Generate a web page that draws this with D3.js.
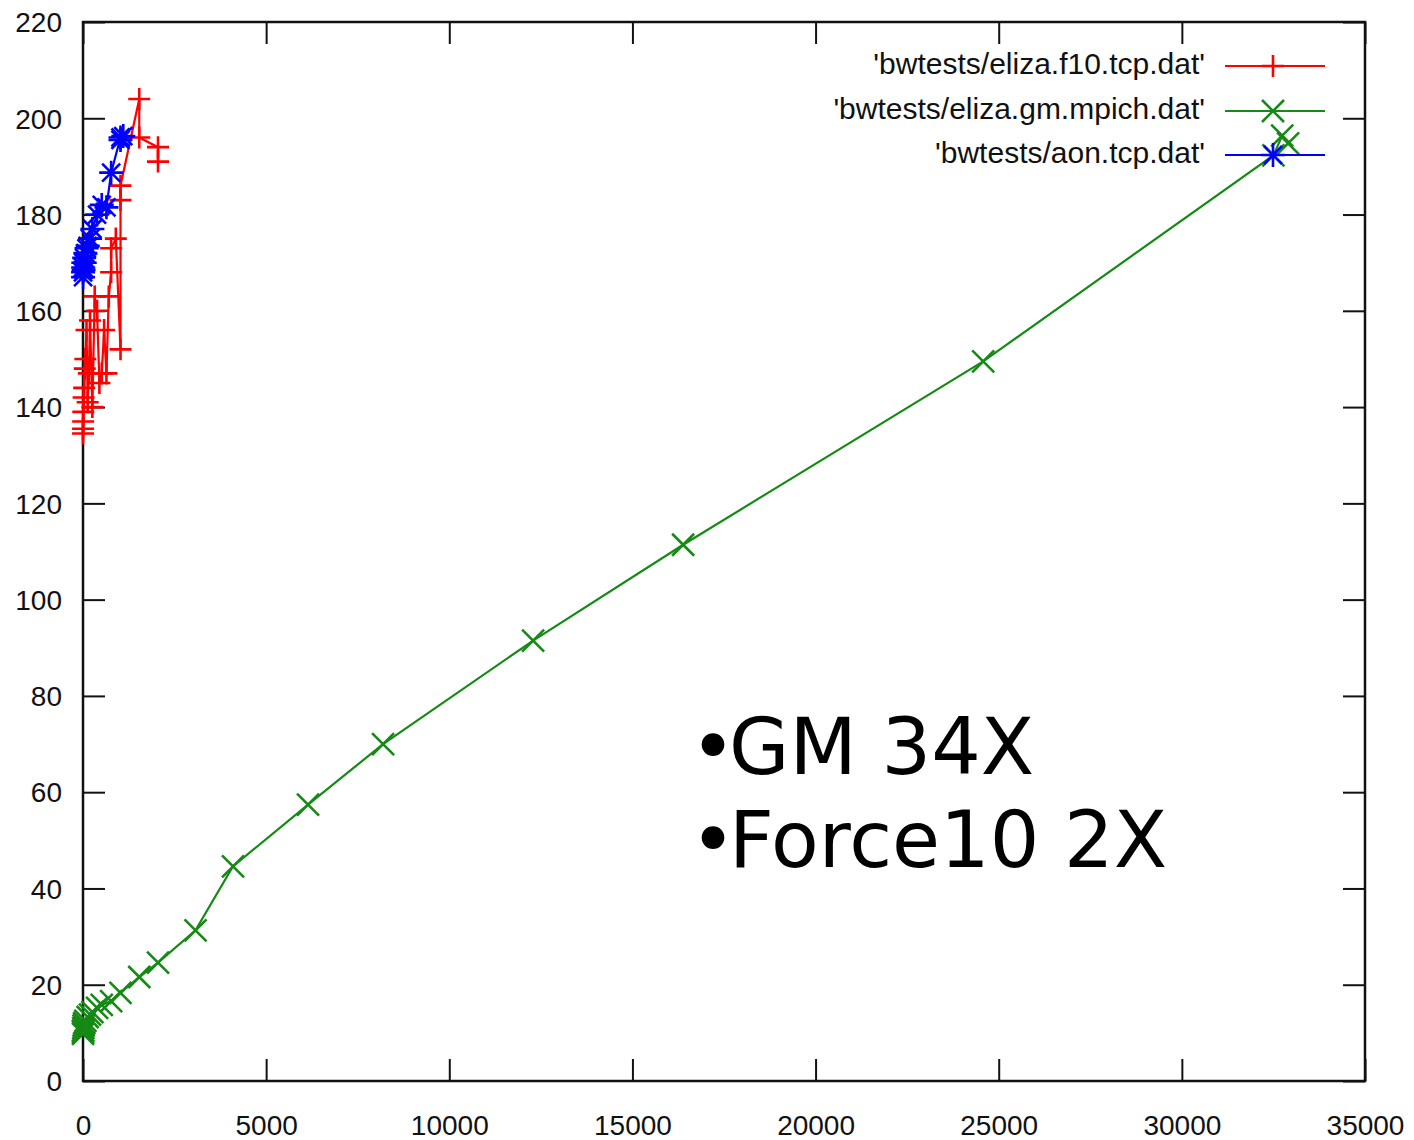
<!DOCTYPE html>
<html>
<head>
    <meta charset="utf-8" />
    <title>bwtests</title>
    <script src="https://d3js.org/d3.v7.min.js"></script>
    <style>
      body { margin: 0; background: #fff; }
      .tick text { font-family: "Liberation Sans", Arial, sans-serif; font-size: 28px; fill: #111; }
      .legend text { font-family: "Liberation Sans", Arial, sans-serif; font-size: 30px; fill: #111; }
      .note { font-family: "DejaVu Sans", sans-serif; font-size: 78px; fill: #000; }
    </style>
</head>
<body>
<svg id="chart" width="1414" height="1140"></svg>
<script>
    // data
    var f10Size = [1, 2, 4, 8, 16, 32, 48, 64, 96, 128, 160, 192, 256, 320, 384, 448, 512, 576, 640, 704, 768, 768, 896, 1024, 1024, 1024, 1536, 1536, 2048, 2048];
    var f10Bw   = [134.5, 135.5, 137, 139, 142, 144, 148, 150, 156, 141, 147, 158, 140, 163, 160, 145, 147, 156, 147, 163, 168, 173, 175, 152, 183, 186, 204, 196, 194, 191];

    var gmSize = [1, 2, 4, 8, 16, 32, 64, 128, 192, 256, 384, 512, 768, 1024, 1536, 2048, 3072, 4096, 6144, 8192, 12288, 16384, 24576, 32500, 32740, 32900];
    var gmBw   = [10.2, 9.8, 10.5, 11, 11.5, 12, 12.5, 13.3, 13.8, 14.3, 15.2, 15.8, 16.6, 18.3, 21.6, 24.6, 31.3, 44.6, 57.4, 70.0, 91.5, 111.4, 149.5, 192.3, 196.4, 194.8];

    var aonSize = [1, 2, 4, 8, 16, 32, 48, 64, 96, 128, 192, 256, 384, 512, 640, 768, 1024, 1024, 1100];
    var aonBw   = [168, 167, 169, 170, 168.5, 171, 170, 172, 173, 173.5, 175, 177, 180, 182, 181.5, 188.7, 196, 195.5, 196.3];

    var xTicks = [0, 5000, 10000, 15000, 20000, 25000, 30000, 35000];
    var yTicks = [0, 20, 40, 60, 80, 100, 120, 140, 160, 180, 200, 220];

    var seriesNames = ["'bwtests/eliza.f10.tcp.dat'", "'bwtests/eliza.gm.mpich.dat'", "'bwtests/aon.tcp.dat'"];
    var seriesColors = ["#ff0000", "#158a15", "#0000ff"];
    var noteLines = ["GM 34X", "Force10 2X"];

    // plot box (note: "top" is taken by window.top, so prefix these)
    var boxLeft = 83, boxTop = 22, boxRight = 1365, boxBottom = 1081;

    var x = d3.scaleLinear().domain([0, 35000]).range([boxLeft, boxRight]);
    var y = d3.scaleLinear().domain([0, 220]).range([boxBottom, boxTop]);

    var svg = d3.select("#chart");

    // axes, ticks point inwards on all four sides
    var xBottom = svg.append("g")
        .attr("transform", "translate(0," + boxBottom + ")")
        .call(d3.axisBottom(x).tickValues(xTicks).tickFormat(d3.format("d"))
            .tickSizeInner(-22).tickSizeOuter(0).tickPadding(34));
    svg.append("g")
        .attr("transform", "translate(0," + boxTop + ")")
        .call(d3.axisTop(x).tickValues(xTicks).tickSizeInner(-22).tickSizeOuter(0).tickFormat(""));
    var yLeft = svg.append("g")
        .attr("transform", "translate(" + boxLeft + ",0)")
        .call(d3.axisLeft(y).tickValues(yTicks).tickSizeInner(-22).tickSizeOuter(0).tickPadding(21));
    svg.append("g")
        .attr("transform", "translate(" + boxRight + ",0)")
        .call(d3.axisRight(y).tickValues(yTicks).tickSizeInner(-22).tickSizeOuter(0).tickFormat(""));

    svg.selectAll(".domain").remove();
    svg.selectAll(".tick line").attr("stroke", "#111").attr("stroke-width", 2);
    xBottom.selectAll(".tick text").attr("dy", "0.71em");
    yLeft.selectAll(".tick text").attr("dy", "0.35em");

    svg.append("rect")
        .attr("x", boxLeft).attr("y", boxTop)
        .attr("width", boxRight - boxLeft).attr("height", boxBottom - boxTop)
        .attr("fill", "none")
        .attr("stroke", "#111")
        .attr("stroke-width", 2.5);

    // point shapes, gnuplot style
    var shapes = [
        "M-11,0H11M0,-11V11",
        "M-11,-11L11,11M-11,11L11,-11",
        "M-12,0H12M0,-12V12M-9,-9L9,9M-9,9L9,-9"
    ];

    var line = d3.line()
        .x(function(d) { return x(d[0]); })
        .y(function(d) { return y(d[1]); });

    var allSeries = [
        d3.zip(f10Size, f10Bw),
        d3.zip(gmSize, gmBw),
        d3.zip(aonSize, aonBw)
    ];

    var legendY = [66, 111, 155];

    allSeries.forEach(function(pts, i) {
        var g = svg.append("g");

        g.append("path")
            .datum(pts)
            .attr("d", line)
            .attr("fill", "none")
            .attr("stroke", seriesColors[i])
            .attr("stroke-width", 2.2);

        g.selectAll(".pt")
            .data(pts)
            .enter().append("path")
            .attr("class", "pt")
            .attr("d", shapes[i])
            .attr("transform", function(d) { return "translate(" + x(d[0]) + "," + y(d[1]) + ")"; })
            .attr("fill", "none")
            .attr("stroke", seriesColors[i])
            .attr("stroke-width", 2.6);

        // legend entry
        var lg = svg.append("g").attr("class", "legend");
        lg.append("text")
            .attr("x", 1205)
            .attr("y", legendY[i] + 8)
            .attr("text-anchor", "end")
            .text(seriesNames[i]);
        lg.append("line")
            .attr("x1", 1225).attr("x2", 1325)
            .attr("y1", legendY[i]).attr("y2", legendY[i])
            .attr("stroke", seriesColors[i])
            .attr("stroke-width", 2.2);
        lg.append("path")
            .attr("d", shapes[i])
            .attr("transform", "translate(1273," + legendY[i] + ")")
            .attr("fill", "none")
            .attr("stroke", seriesColors[i])
            .attr("stroke-width", 2.6);
    });

    // bullet notes, bullet pulled tight against the text like the slide
    var noteBase = [774, 867];
    noteLines.forEach(function(t, i) {
        var txt = svg.append("text").attr("class", "note").attr("x", 690).attr("y", noteBase[i]);
        txt.append("tspan").style("letter-spacing", "-7px").text("\u2022");
        txt.append("tspan").text(t);
    });
</script>
</body>
</html>
